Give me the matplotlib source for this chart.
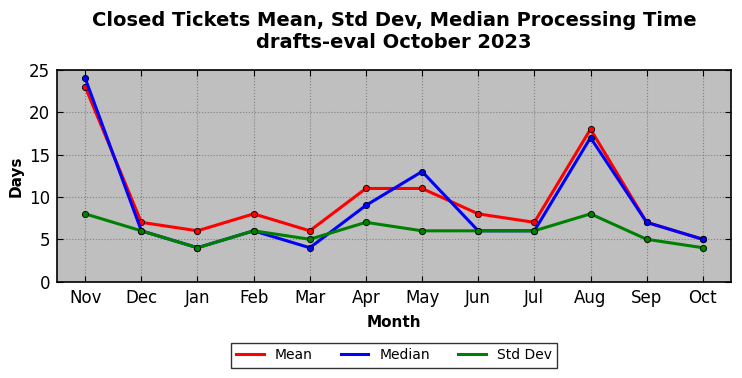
import matplotlib
matplotlib.use("Agg")
import matplotlib.pyplot as plt

months = ["Nov", "Dec", "Jan", "Feb", "Mar", "Apr", "May", "Jun", "Jul", "Aug", "Sep", "Oct"]
mean = [23, 7, 6, 8, 6, 11, 11, 8, 7, 18, 7, 5]
median = [24, 6, 4, 6, 4, 9, 13, 6, 6, 17, 7, 5]
std_dev = [8, 6, 4, 6, 5, 7, 6, 6, 6, 8, 5, 4]

fig = plt.figure(figsize=(7.42, 3.78), dpi=100)
ax = fig.add_axes([0.077, 0.255, 0.908, 0.56])
ax.set_facecolor("#bfbfbf")

x = range(len(months))
for vals, color, label in [(mean, "red", "Mean"), (median, "blue", "Median"), (std_dev, "green", "Std Dev")]:
    ax.plot(x, vals, color=color, lw=2.2, marker="o", markersize=4.5,
            markerfacecolor=color, markeredgecolor="black", markeredgewidth=0.6, label=label)

ax.set_xlim(-0.5, 11.5)
ax.set_ylim(0, 25)
ax.set_xticks(list(x))
ax.set_xticklabels(months)
ax.set_yticks([0, 5, 10, 15, 20, 25])
ax.tick_params(labelsize=12, direction="in", top=True, right=True, length=4, pad=5)
ax.grid(True, color="gray", linestyle=":", linewidth=0.8)
for s in ax.spines.values():
    s.set_linewidth(1.2)

ax.set_xlabel("Month", fontsize=11, fontweight="bold", labelpad=6)
ax.set_ylabel("Days", fontsize=11, fontweight="bold")
ax.set_title("Closed Tickets Mean, Std Dev, Median Processing Time\ndrafts-eval October 2023",
             fontsize=14, fontweight="bold", pad=16)

leg = ax.legend(loc="upper center", bbox_to_anchor=(0.5, -0.255), ncol=3, fontsize=10,
                frameon=True, fancybox=False, edgecolor="black", columnspacing=2.0,
                handlelength=2, borderpad=0.4)
leg.get_frame().set_linewidth(1.0)
for line in leg.get_lines():
    line.set_marker("")

fig.savefig("out.png", dpi=100)
